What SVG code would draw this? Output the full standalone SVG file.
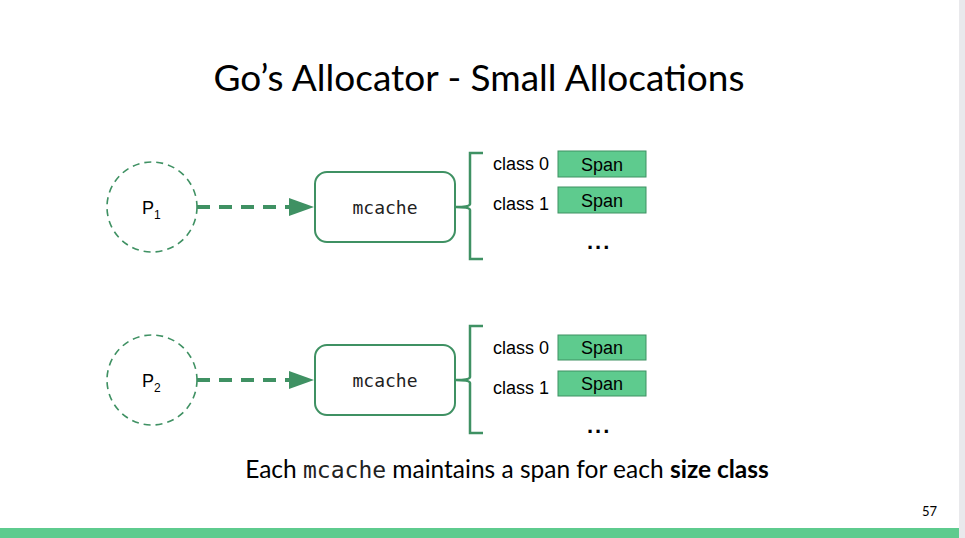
<svg xmlns="http://www.w3.org/2000/svg" width="965" height="538" viewBox="0 0 965 538">
<defs>
<style>
.circ{fill:none;stroke:#3f9163;stroke-width:1.6;stroke-dasharray:7 5}
.conn{fill:none;stroke:#3f9163;stroke-width:4;stroke-dasharray:13 9}
.box{fill:#fff;stroke:#3f9163;stroke-width:2}
.brace{fill:none;stroke:#3f9163;stroke-width:2.5}
.span{fill:#5ecb8e;stroke:#3f9163;stroke-width:1}
.t{font-family:Lato,"Liberation Sans",sans-serif;fill:#000}
.a{font-family:"Liberation Sans",Arial,sans-serif;fill:#000}
.dots{font-family:"Liberation Sans",Arial,sans-serif;fill:#000;font-size:22px;font-weight:bold;letter-spacing:2px}
.mono{font-family:"DejaVu Sans Mono","Liberation Mono",monospace;fill:#222}
</style>
</defs>
<rect width="965" height="538" fill="#fff"/>
<rect x="959" y="0" width="6" height="538" fill="#e9e9ec"/>
<rect x="0" y="528" width="959" height="10" fill="#5ecb8e"/>
<text x="479" y="91" text-anchor="middle" class="t" font-size="37" fill="#222">Go’s Allocator - Small Allocations</text>

<g id="connectors">
<path class="conn" d="M197,207 L290,207" />
<path d="M289,198 L314,207 L289,216 Z" fill="#3f9163"/>
<path class="conn" d="M197,380 L290,380" />
<path d="M289,371 L314,380 L289,389 Z" fill="#3f9163"/>
</g>

<g id="p1">
<circle class="circ" cx="152" cy="207" r="45"/>
<text x="142" y="214" class="a" font-size="18">P<tspan font-size="12" dy="5">1</tspan></text>
</g>
<g id="mcache1">
<rect class="box" x="315" y="172" width="140" height="70" rx="12"/>
<text x="385" y="214" text-anchor="middle" class="mono" font-size="18">mcache</text>
</g>
<g id="classes1">
<path class="brace" d="M483,153 L470,153 L470,204 Q470,207 456,207 Q470,207 470,210 L470,259 L483,259"/>
<text x="493" y="170" class="a" font-size="18">class 0</text>
<rect class="span" x="558" y="151" width="88" height="26"/>
<text x="602" y="171" text-anchor="middle" class="a" font-size="18">Span</text>
<text x="493" y="210" class="a" font-size="18">class 1</text>
<rect class="span" x="558" y="187" width="88" height="26"/>
<text x="602" y="207" text-anchor="middle" class="a" font-size="18">Span</text>
<text x="587" y="249" class="dots">...</text>
</g>

<g id="p2">
<circle class="circ" cx="152" cy="380" r="45"/>
<text x="142" y="387" class="a" font-size="18">P<tspan font-size="12" dy="5">2</tspan></text>
</g>
<g id="mcache2">
<rect class="box" x="315" y="345" width="140" height="70" rx="12"/>
<text x="385" y="387" text-anchor="middle" class="mono" font-size="18">mcache</text>
</g>
<g id="classes2">
<path class="brace" d="M483,326 L470,326 L470,377 Q470,380 456,380 Q470,380 470,383 L470,433 L483,433"/>
<text x="493" y="354" class="a" font-size="18">class 0</text>
<rect class="span" x="558" y="335" width="88" height="25"/>
<text x="602" y="354" text-anchor="middle" class="a" font-size="18">Span</text>
<text x="493" y="394" class="a" font-size="18">class 1</text>
<rect class="span" x="558" y="371" width="88" height="25"/>
<text x="602" y="390" text-anchor="middle" class="a" font-size="18">Span</text>
<text x="587" y="433" class="dots">...</text>
</g>

<text x="507" y="478" text-anchor="middle" class="t" font-size="24.5" fill="#111">Each <tspan class="mono" font-size="23">mcache</tspan> maintains a span for each <tspan font-weight="bold">size class</tspan></text>
<text x="937" y="516" text-anchor="end" class="t" font-size="13" fill="#222">57</text>
</svg>
